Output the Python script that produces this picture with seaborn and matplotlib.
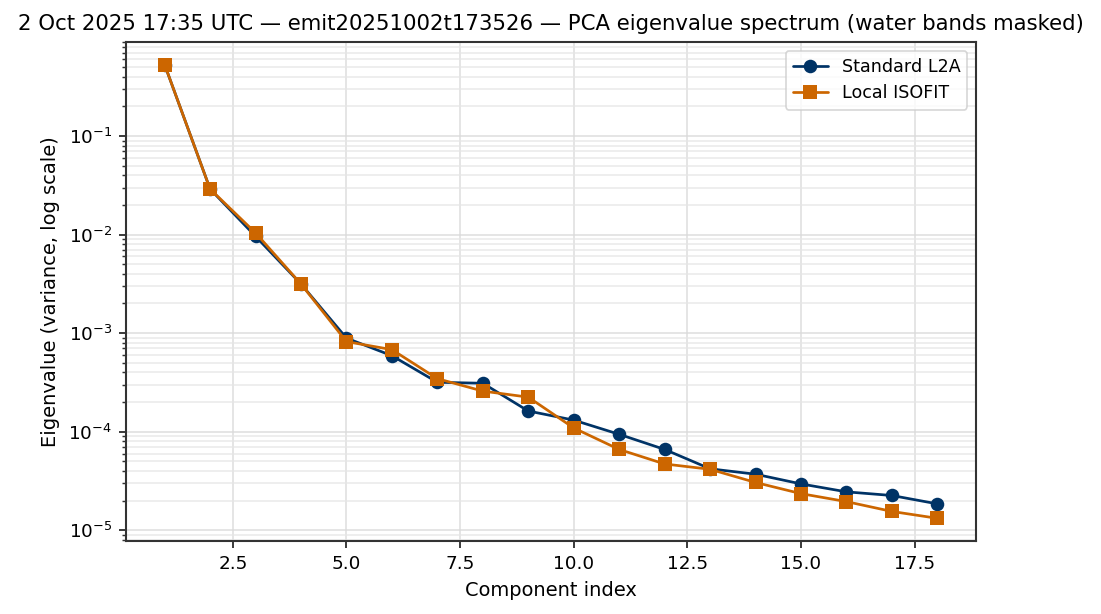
import numpy as np
import pandas as pd
import matplotlib
matplotlib.use("Agg")
import matplotlib.pyplot as plt
import seaborn as sns

# PCA eigenvalues (water bands masked)
components = list(range(1, 19))
standard_l2a = [0.53, 0.029, 0.0096, 0.00315, 0.00089, 0.00059, 0.000317, 0.00031,
                0.000162, 0.000131, 9.4e-05, 6.6e-05, 4.2e-05, 3.7e-05, 2.95e-05,
                2.45e-05, 2.25e-05, 1.85e-05]
local_isofit = [0.53, 0.029, 0.0104, 0.00315, 0.00082, 0.00068, 0.000345, 0.000258,
                0.000224, 0.000109, 6.6e-05, 4.7e-05, 4.15e-05, 3.05e-05, 2.35e-05,
                1.95e-05, 1.55e-05, 1.32e-05]

title = ("2 Oct 2025 17:35 UTC \u2014 emit20251002t173526 \u2014 "
         "PCA eigenvalue spectrum (water bands masked)")

sns.set_theme(style="ticks", context="paper")
plt.rcParams['font.family'] = ['DejaVu Sans']
plt.rcParams.update({
    'text.color': 'black',
    'axes.labelcolor': 'black',
    'xtick.color': 'black',
    'ytick.color': 'black',
})

fig, ax = plt.subplots(figsize=(1101 / 150, 614 / 150), dpi=150)
fig.subplots_adjust(left=126 / 1101, right=976 / 1101, top=1 - 42 / 614, bottom=1 - 541 / 614)

df = pd.DataFrame({'component': components, 'std': standard_l2a, 'iso': local_isofit})

sns.lineplot(data=df, x='component', y='std', ax=ax, marker='o', markersize=6.5,
             color='#003366', linewidth=1.3, markeredgewidth=0, label='Standard L2A')
sns.lineplot(data=df, x='component', y='iso', ax=ax, marker='s', markersize=6.5,
             color='#cc6600', linewidth=1.3, markeredgewidth=0, label='Local ISOFIT')

ax.set_yscale('log')
ax.grid(True, which='major', color='#d9d9d9', alpha=0.8, linewidth=0.8)
ax.grid(True, which='minor', axis='y', color='#e6e6e6', alpha=0.8, linewidth=0.8)
ax.set_xlabel('Component index', fontsize=9.3)
ax.set_ylabel('Eigenvalue (variance, log scale)', fontsize=9.3)
ax.set_title(title, fontsize=10.2)
ax.tick_params(which='major', length=3.2, width=0.9, labelsize=8.8, color='#333333')
ax.tick_params(which='minor', length=2, width=0.7, color='#333333')
for s in ax.spines.values():
    s.set_visible(True)
    s.set_color('#333333')
ax.legend(loc='upper right', fontsize=8.4)

fig.savefig('out.png', dpi=150)
